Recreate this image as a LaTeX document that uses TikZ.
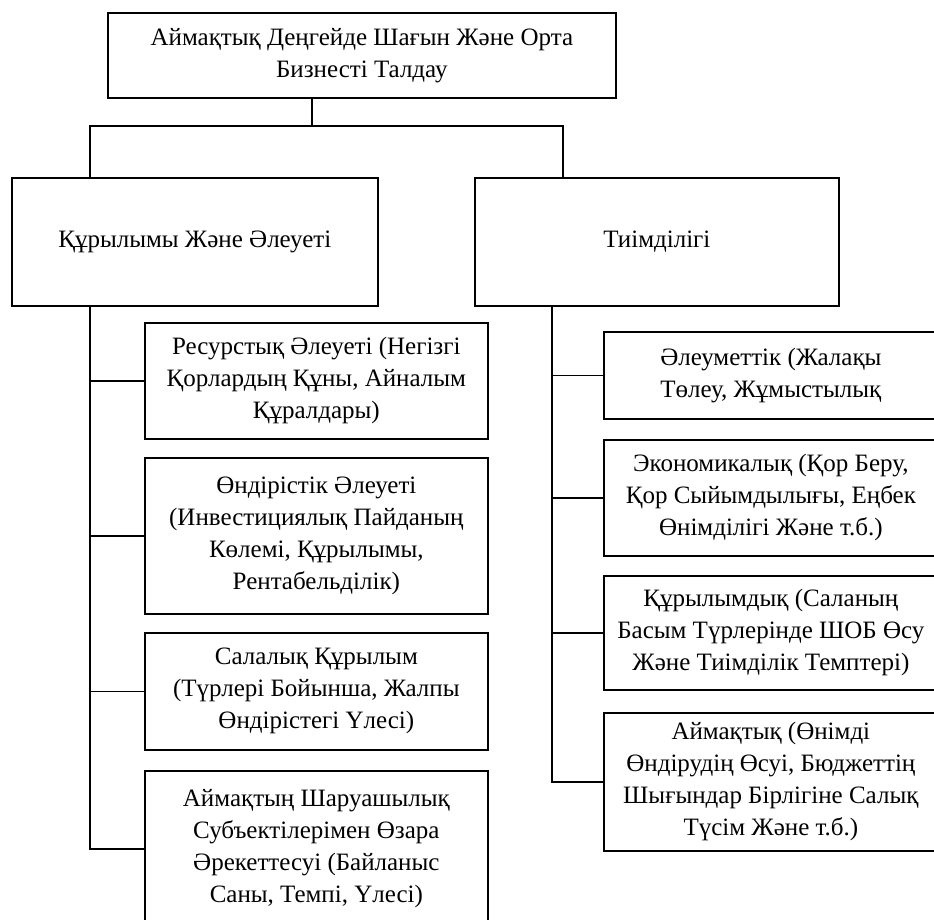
\documentclass[tikz,border=0pt]{standalone}
\usepackage{fontspec}
\setmainfont{Liberation Serif}
\begin{document}
\begin{tikzpicture}[x=1pt,y=-1pt,
  box/.style={draw=black,line width=1.7pt,rectangle,inner sep=0pt,anchor=north west,
    align=center,font=\fontsize{25}{32}\selectfont},
  link/.style={draw=black,line width=1.7pt}]
\useasboundingbox (0,0) rectangle (934,920);
\node[box,minimum width=508pt,minimum height=85pt] (top) at (107,12)
  {Аймақтық Деңгейде Шағын Және Орта\\Бизнесті Талдау};
\node[box,minimum width=366pt,minimum height=128pt] (L1) at (11,177) {Құрылымы Және Әлеуеті};
\node[box,minimum width=364pt,minimum height=128pt] (R1) at (474,177) {Тиімділігі};
% left children
\node[box,minimum width=343pt,minimum height=116pt] (A) at (144,322)
  {Ресурстық Әлеуеті (Негізгі\\Қорлардың Құны, Айналым\\Құралдары)};
\node[box,minimum width=343pt,minimum height=156pt] (B) at (144,457)
  {Өндірістік Әлеуеті\\(Инвестициялық Пайданың\\Көлемі, Құрылымы,\\Рентабельділік)};
\node[box,minimum width=343pt,minimum height=117pt] (C) at (144,632)
  {Салалық Құрылым\\(Түрлері Бойынша, Жалпы\\Өндірістегі Үлесі)};
\node[box,minimum width=343pt,minimum height=156pt] (D) at (144,770)
  {Аймақтың Шаруашылық\\Субъектілерімен Өзара\\Әрекеттесуі (Байланыс\\Саны, Темпі, Үлесі)};
% right children
\node[box,minimum width=334pt,minimum height=87pt] (E) at (603,331)
  {Әлеуметтік (Жалақы\\Төлеу, Жұмыстылық};
\node[box,minimum width=334pt,minimum height=116pt] (F) at (603,439)
  {Экономикалық (Қор Беру,\\Қор Сыйымдылығы, Еңбек\\Өнімділігі Және т.б.)};
\node[box,minimum width=334pt,minimum height=114pt] (G) at (603,575)
  {Құрылымдық (Саланың\\Басым Түрлерінде ШОБ Өсу\\Және Тиімділік Темптері)};
\node[box,minimum width=334pt,minimum height=138pt] (H) at (603,712)
  {Аймақтық (Өнімді\\Өндірудің Өсуі, Бюджеттің\\Шығындар Бірлігіне Салық\\Түсім Және т.б.)};
% connectors
\coordinate (tj) at (312,126);
\coordinate (ls) at (90,0);
\coordinate (rt) at (563,0);
\coordinate (rs) at (552,0);
\draw[link] (top.south -| tj) -- (tj);
\draw[link] (L1.north -| ls) |- (tj) -| (R1.north -| rt);
\draw[link] (L1.south -| ls) |- (D.west);
\draw[link] (ls |- A.west) -- (A.west);
\draw[link] (ls |- B.west) -- (B.west);
\draw[link] (ls |- C.west) -- (C.west);
\draw[link] (R1.south -| rs) |- (H.west);
\draw[link] (rs |- E.west) -- (E.west);
\draw[link] (rs |- F.west) -- (F.west);
\draw[link] (rs |- G.west) -- (G.west);
\end{tikzpicture}
\end{document}
